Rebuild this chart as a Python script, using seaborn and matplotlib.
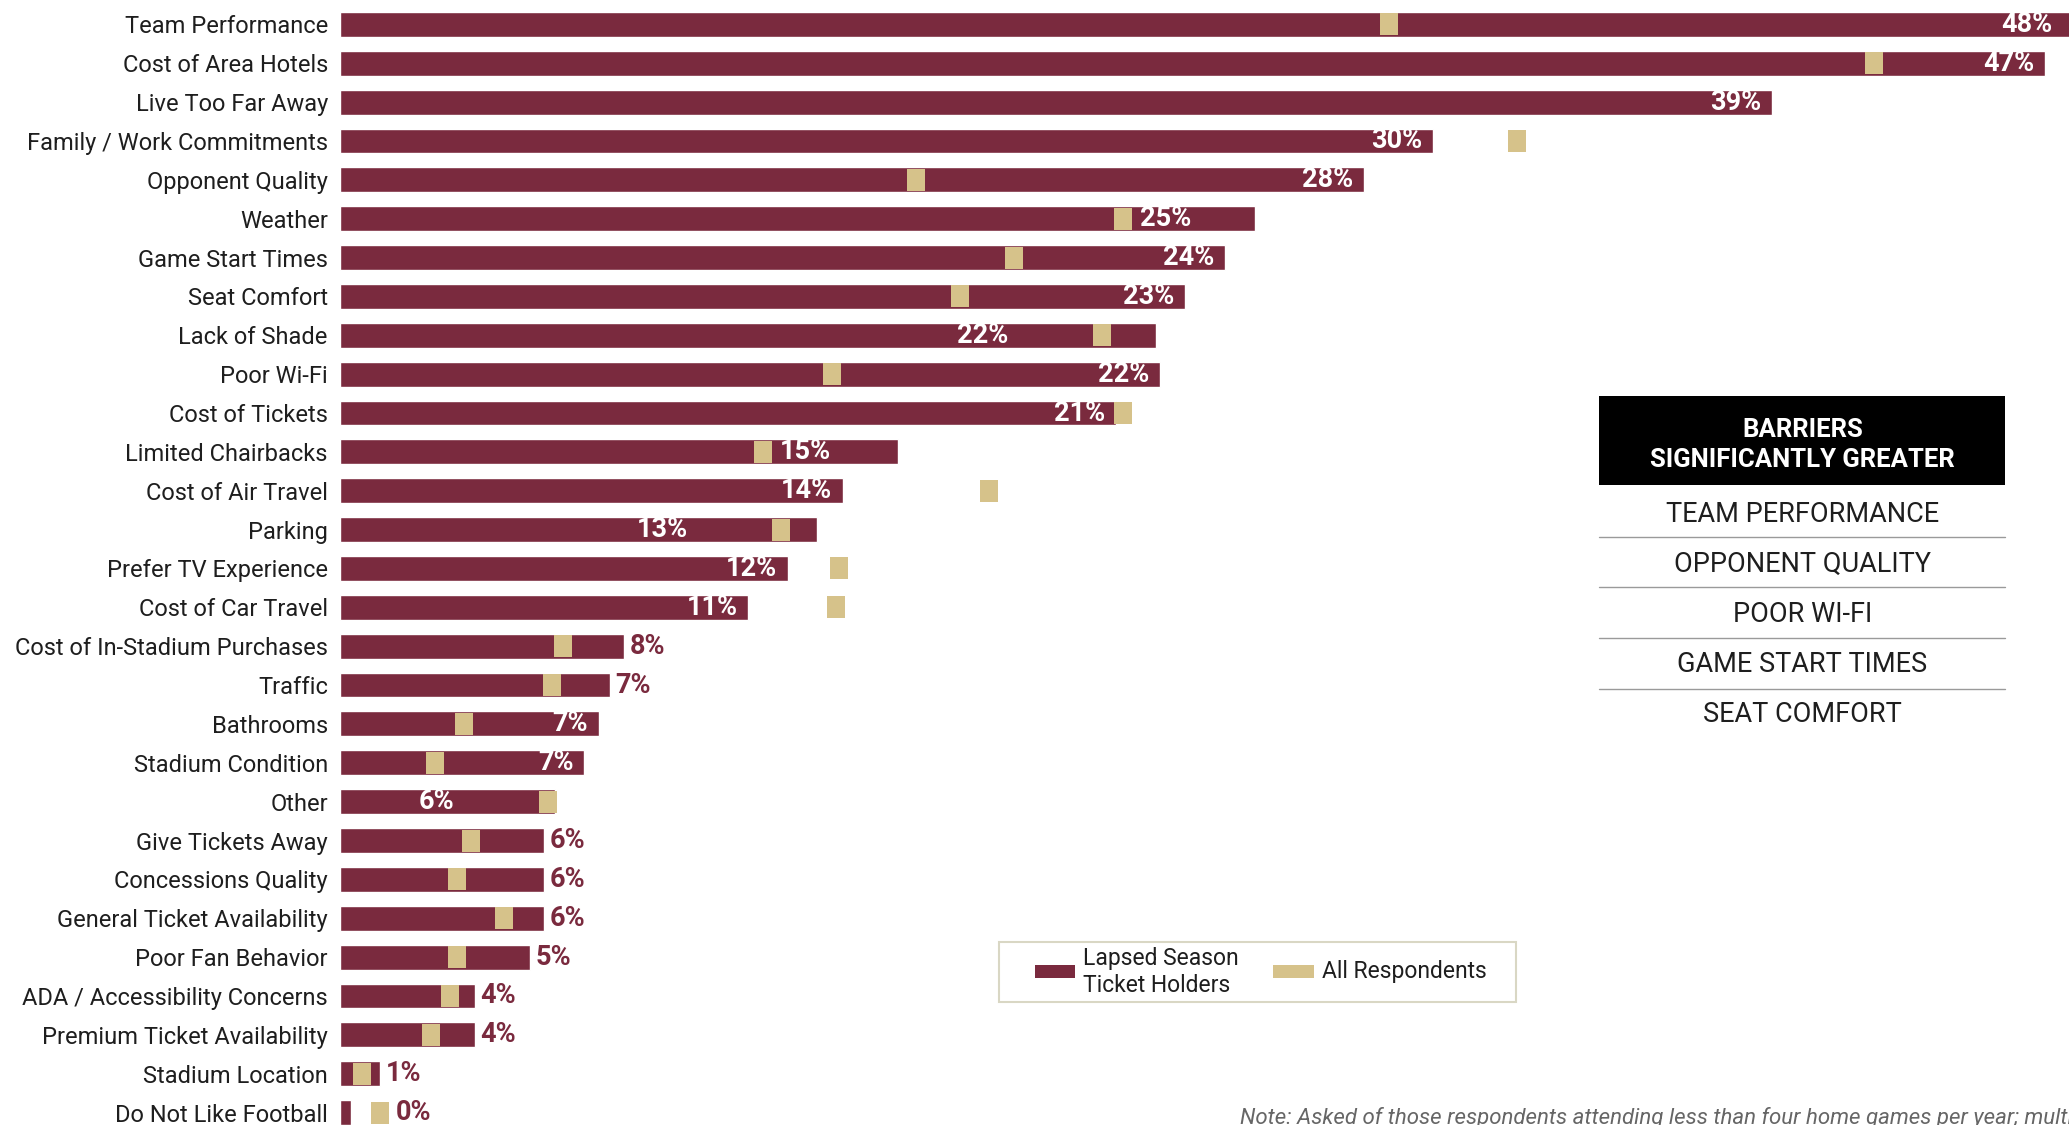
import matplotlib
matplotlib.use("Agg")
import matplotlib.pyplot as plt
import seaborn as sns
import pandas as pd
import numpy as np
from matplotlib.patches import Rectangle
from matplotlib.lines import Line2D

# ---------------- data ----------------
categories = [
    "Team Performance", "Cost of Area Hotels", "Live Too Far Away",
    "Family / Work Commitments", "Opponent Quality", "Weather",
    "Game Start Times", "Seat Comfort", "Lack of Shade", "Poor Wi-Fi",
    "Cost of Tickets", "Limited Chairbacks", "Cost of Air Travel", "Parking",
    "Prefer TV Experience", "Cost of Car Travel",
    "Cost of In-Stadium Purchases", "Traffic", "Bathrooms",
    "Stadium Condition", "Other", "Give Tickets Away", "Concessions Quality",
    "General Ticket Availability", "Poor Fan Behavior",
    "ADA / Accessibility Concerns", "Premium Ticket Availability",
    "Stadium Location", "Do Not Like Football",
]
lapsed = [48.2, 46.8, 39.3, 30.0, 28.1, 25.1, 24.3, 23.2, 22.4, 22.5,
          21.3, 15.3, 13.8, 13.1, 12.3, 11.2, 7.8, 7.4, 7.1, 6.7,
          5.9, 5.6, 5.6, 5.6, 5.2, 3.7, 3.7, 1.1, 0.3]
all_respondents = [28.8, 42.1, np.nan, 32.3, 15.8, 21.5, 18.5, 17.0, 20.9, 13.5,
                   21.5, 11.6, 17.8, 12.1, 13.7, 13.6, 6.1, 5.8, 3.4, 2.6,
                   5.7, 3.6, 3.2, 4.5, 3.2, 3.0, 2.5, 0.6, 1.1]
# where each value label sits relative to its bar / marker
label_mode = ["end", "end", "end", "end", "end", "after", "end", "end", "before", "end",
              "end", "after", "end", "before", "end", "end", "out", "out", "end", "end",
              "before", "out", "out", "out", "out", "out", "out", "out", "out"]
legend_labels = ["Lapsed Season\nTicket Holders", "All Respondents"]
panel_title = "BARRIERS\nSIGNIFICANTLY GREATER"
panel_items = ["TEAM PERFORMANCE", "OPPONENT QUALITY", "POOR WI-FI",
               "GAME START TIMES", "SEAT COMFORT"]
note = ("Note: Asked of those respondents attending less than four home games per year; "
        "multiple responses allowed")

MAROON = "#7a2a3e"
GOLD = "#d6c28a"
TXT = "#1e1e1e"

sns.set_theme(style="white")
plt.rcParams['font.family'] = ['Roboto', 'DejaVu Sans']

fig = plt.figure(figsize=(20.69, 11.25), dpi=100)
fig.patch.set_facecolor("white")
ax = fig.add_axes([0.1645, -0.0062, 0.8355, 1.0018])

n = len(categories)
df = pd.DataFrame({"category": categories, "lapsed": lapsed,
                   "all": all_respondents, "pos": np.arange(n)})

sns.barplot(data=df, x="lapsed", y="category", orient="h", color=MAROON,
            saturation=1, width=0.64, ax=ax, zorder=2)

marker_verts = [(-0.4, -0.5), (0.4, -0.5), (0.4, 0.5), (-0.4, 0.5), (-0.4, -0.5)]
sns.scatterplot(data=df.dropna(subset=["all"]), x="all", y="pos",
                marker=marker_verts, s=250, color=GOLD, linewidth=0,
                ax=ax, zorder=3, legend=False)

XMAX = 47.46
ax.set_xlim(0, XMAX)
ax.set_ylim(n - 0.5, -0.5)
ax.set_yticks(range(n))
ax.set_yticklabels(categories, fontsize=17, color=TXT)
ax.tick_params(axis="y", length=0, pad=9)
ax.set_xticks([])
ax.set_xlabel("")
ax.set_ylabel("")
for s in ax.spines.values():
    s.set_visible(False)
ax.set_facecolor("none")

# value labels
mhalf = 0.26
VFS = 19.5
for i, (v, a, mode) in enumerate(zip(lapsed, all_respondents, label_mode)):
    txt = f"{int(round(v))}%"
    end = min(v, XMAX)
    if mode == "end":
        pad = 0.45 if v > XMAX else 0.3
        ax.text(end - pad, i, txt, ha="right", va="center", color="white",
                fontsize=VFS, fontweight="bold", zorder=4)
    elif mode == "after":
        ax.text(a + mhalf + 0.2, i, txt, ha="left", va="center", color="white",
                fontsize=VFS, fontweight="bold", zorder=4)
    elif mode == "before":
        ax.text(a - mhalf - 2.3, i, txt, ha="right", va="center", color="white",
                fontsize=VFS, fontweight="bold", zorder=4)
    else:
        right = v if np.isnan(a) else max(v, a + mhalf)
        ax.text(right + 0.15, i, txt, ha="left", va="center", color=MAROON,
                fontsize=VFS, fontweight="bold", zorder=4)

# right-hand panel
fig.add_artist(Rectangle((0.773, 0.5686), 0.196, 0.0797, transform=fig.transFigure,
                         facecolor="black", edgecolor="none"))
fig.text(0.8712, 0.6043, panel_title, ha="center", va="center", color="white",
         fontsize=18.5, fontweight="bold", linespacing=1.3)
item_y = [0.5428, 0.4982, 0.4537, 0.4091, 0.3646]
line_y = [0.5229, 0.4783, 0.4326, 0.3880]
for t, y in zip(panel_items, item_y):
    fig.text(0.8712, y, t, ha="center", va="center", color=TXT, fontsize=19.5)
for y in line_y:
    fig.add_artist(Line2D([0.773, 0.969], [y, y], transform=fig.transFigure,
                          color="#9a9a9a", linewidth=1.0))

# legend box
fig.add_artist(Rectangle((0.4828, 0.1090), 0.25, 0.054, transform=fig.transFigure,
                         facecolor="white", edgecolor="#d9d7c4", linewidth=1.5))
fig.add_artist(Rectangle((0.5000, 0.1305), 0.0198, 0.0118, transform=fig.transFigure,
                         facecolor=MAROON, edgecolor="none"))
fig.add_artist(Rectangle((0.6154, 0.1305), 0.0198, 0.0118, transform=fig.transFigure,
                         facecolor=GOLD, edgecolor="none"))
fig.text(0.5236, 0.1362, legend_labels[0], ha="left", va="center", color=TXT,
         fontsize=16.5, linespacing=1.2)
fig.text(0.6390, 0.1362, legend_labels[1], ha="left", va="center", color=TXT,
         fontsize=16.5)

fig.text(0.5995, 0.0065, note, ha="left", va="center", color="#666666",
         fontsize=16, style="italic")

fig.savefig("out.png", dpi=100, facecolor="white")
